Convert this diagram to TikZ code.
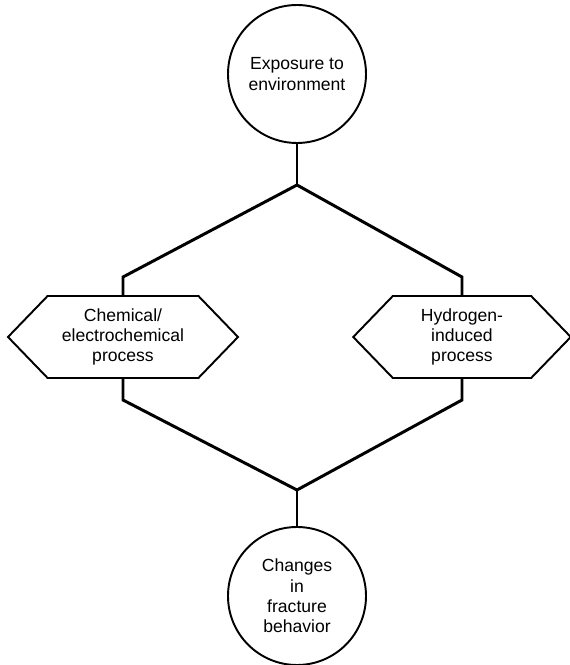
\documentclass[tikz,border=0pt]{standalone}
\usepackage{fontspec}
\setmainfont{Liberation Sans}
\usetikzlibrary{shapes.symbols}

\begin{document}
\begin{tikzpicture}[
  stage/.style={circle, draw, line width=1.1pt, minimum size=2.76cm, inner sep=0pt,
    align=center, font=\fontsize{10}{11.6}\selectfont},
  process/.style={signal, signal to=west and east, signal pointer angle=92, draw,
    line width=1.1pt, minimum height=1.64cm, inner sep=0pt,
    align=center, font=\fontsize{10}{11.6}\selectfont},
  link/.style={line width=1.7pt, line join=miter}
]
\useasboundingbox (0,0) rectangle (11.4,13.3);

% start and end states
\node[stage] (expo) at (5.94,11.82) {Exposure to\\environment};
\node[stage] (frac) at (5.94,1.38) {Changes\\in\\fracture\\behavior};

% the two processes
\node[process, minimum width=4.6cm] (chem) at (2.46,6.56) {Chemical/\\electrochemical\\process};
\node[process, minimum width=4.35cm] (hydro) at (9.24,6.56) {Hydrogen-\\induced\\process};

% branch and merge points
\coordinate (split) at (5.94,9.6);
\coordinate (merge) at (5.94,3.5);
\coordinate (chemin) at (2.46,7.76);
\coordinate (hydroin) at (9.24,7.76);
\coordinate (chemout) at (2.46,5.3);
\coordinate (hydroout) at (9.24,5.3);

\draw[link] (expo.south) -- (split);
\draw[link] (split) -- (chemin) -- (chem.north);
\draw[link] (split) -- (hydroin) -- (hydro.north);
\draw[link] (chem.south) -- (chemout) -- (merge);
\draw[link] (hydro.south) -- (hydroout) -- (merge);
\draw[link] (merge) -- (frac.north);
\end{tikzpicture}
\end{document}
